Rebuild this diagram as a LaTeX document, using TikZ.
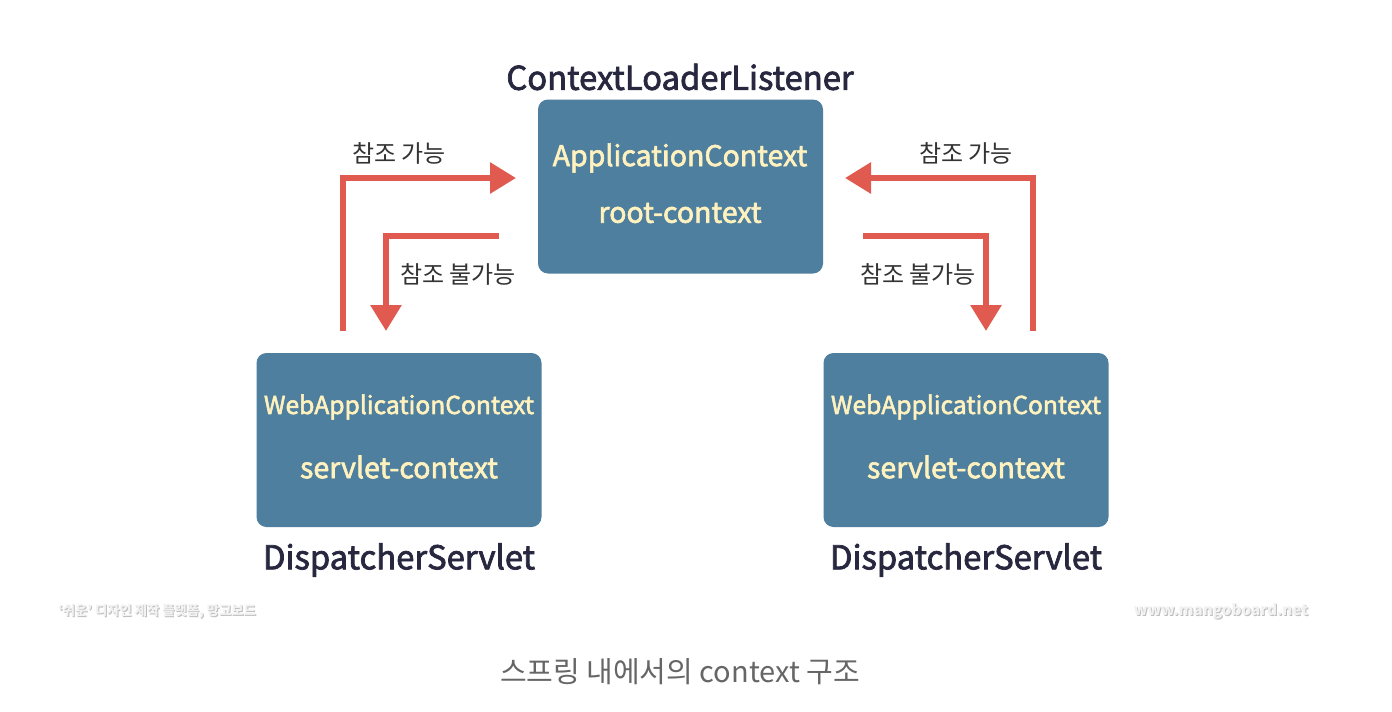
\documentclass[tikz,border=0pt]{standalone}
\usepackage{fontspec}
\setmainfont{Noto Sans CJK KR}
\newfontfamily\medfont[FakeBold=2.2]{Noto Sans CJK KR}
\usetikzlibrary{arrows.meta}
\definecolor{boxblue}{HTML}{4F7F9E}
\definecolor{cream}{HTML}{FFF2BF}
\definecolor{navy}{HTML}{27273F}
\definecolor{arrowred}{HTML}{E05A50}
\definecolor{labelgray}{HTML}{333333}
\definecolor{capgray}{HTML}{666666}
\definecolor{wmgray}{HTML}{F2F2F2}
\definecolor{wmshadow}{HTML}{BDBDBD}
\tikzset{
  ctxbox/.style={fill=boxblue, rounded corners=10pt, minimum width=285pt, minimum height=174pt, inner sep=0pt},
  boxtext/.style={text=cream, font=\fontsize{28.5}{30}\medfont, inner sep=0pt},
  smallboxtext/.style={text=cream, font=\fontsize{24.6}{28}\medfont, inner sep=0pt},
  title/.style={text=navy, font=\fontsize{32.8}{36}\medfont, inner sep=0pt},
  reflabel/.style={text=labelgray, font=\fontsize{24}{28}\selectfont, inner sep=0pt},
  refarrow/.style={draw=arrowred, line width=6pt, -{Triangle[length=26pt,width=30pt]}},
  wm/.style={text=wmgray, font=\fontsize{13.3}{16}\selectfont\bfseries, inner sep=0pt},
  wmsh/.style={text=wmshadow, font=\fontsize{13.3}{16}\selectfont\bfseries, inner sep=0pt},
}
\begin{document}
\begin{tikzpicture}[x=1pt,y=-1pt]
\useasboundingbox[fill=white] (0,0) rectangle (1392,712);
% boxes
\node[ctxbox] (root) at (680.5,186.5) {};
\node[ctxbox] (left) at (399,440) {};
\node[ctxbox] (right) at (966,440) {};
% box texts
\node[boxtext] (roottxt1) at (680,158) {ApplicationContext};
\node[boxtext] (roottxt2) at (680,213) {root-context};
\node[smallboxtext] (lefttxt1) at (399,407) {WebApplicationContext};
\node[boxtext] (lefttxt2) at (399,467) {servlet-context};
\node[smallboxtext] (righttxt1) at (966,407) {WebApplicationContext};
\node[boxtext] (righttxt2) at (966,467) {servlet-context};
% titles
\node[title] (rootname) at (680,77) {ContextLoaderListener};
\node[title] (leftname) at (399,560) {DispatcherServlet};
\node[title] (rightname) at (966,560) {DispatcherServlet};
% arrow endpoints
\coordinate (la1s) at (343,331);
\coordinate (la1c) at (343,178);
\coordinate (la1e) at (516,178);
\coordinate (la2s) at (499,236);
\coordinate (la2c) at (386,236);
\coordinate (la2e) at (386,331);
\coordinate (ra1s) at (1033,331);
\coordinate (ra1c) at (1033,178);
\coordinate (ra1e) at (845,178);
\coordinate (ra2s) at (863,236);
\coordinate (ra2c) at (986,236);
\coordinate (ra2e) at (986,331);
\draw[refarrow] (la1s) -- (la1c) -- (la1e);
\draw[refarrow] (la2s) -- (la2c) -- (la2e);
\draw[refarrow] (ra1s) -- (ra1c) -- (ra1e);
\draw[refarrow] (ra2s) -- (ra2c) -- (ra2e);
% labels
\node[reflabel] (l1) at (399,153) {참조 가능};
\node[reflabel] (l2) at (458,274) {참조 불가능};
\node[reflabel] (r1) at (966,153) {참조 가능};
\node[reflabel] (r2) at (918,274) {참조 불가능};
% watermarks
\node[wmsh] (wmlsh) at (158,612) {‘쉬운’ 디자인 제작 플랫폼, 망고보드};
\node[wm] (wml) at (157,611) {‘쉬운’ 디자인 제작 플랫폼, 망고보드};
\node[wmsh, font=\fontsize{15.2}{18}\selectfont\bfseries] (wmrsh) at (1222,612) {www.mangoboard.net};
\node[wm, font=\fontsize{15.2}{18}\selectfont\bfseries] (wmr) at (1221,611) {www.mangoboard.net};
% caption
\node[text=capgray, font=\fontsize{29}{32}\selectfont, inner sep=0pt] (cap) at (680,672) {스프링 내에서의 context 구조};
\end{tikzpicture}
\end{document}
